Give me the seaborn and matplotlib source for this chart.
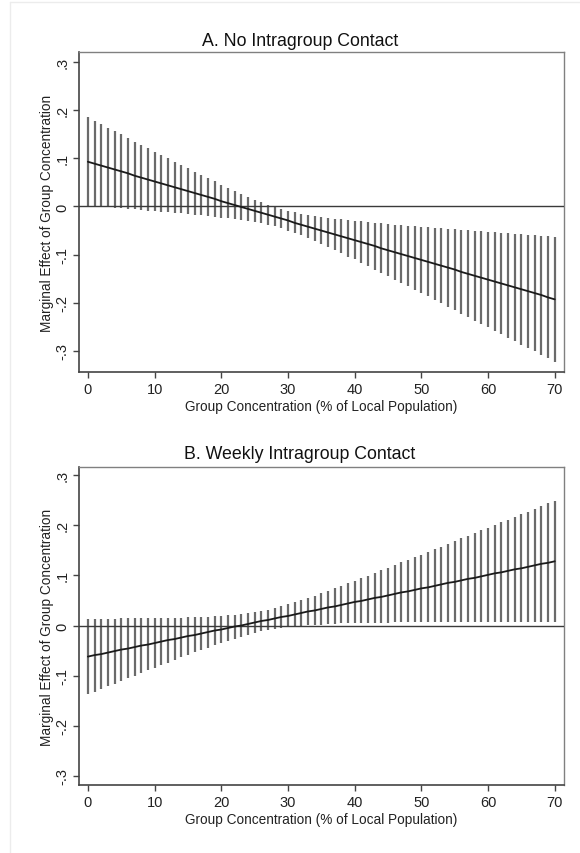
import matplotlib
matplotlib.use('Agg')
import matplotlib.pyplot as plt
import seaborn as sns
import numpy as np
import pandas as pd

# group concentration (% of local population)
conc = list(range(0, 71))

# A. No Intragroup Contact
est_a = [0.093, 0.089, 0.085, 0.081, 0.077, 0.073, 0.069, 0.064, 0.060, 0.056,
         0.052, 0.048, 0.044, 0.040, 0.036, 0.032, 0.028, 0.024, 0.020, 0.016,
         0.011, 0.007, 0.003, -0.001, -0.005, -0.009, -0.013, -0.017, -0.021, -0.025,
         -0.029, -0.034, -0.038, -0.042, -0.046, -0.050, -0.054, -0.058, -0.062, -0.066,
         -0.070, -0.074, -0.078, -0.082, -0.087, -0.091, -0.095, -0.099, -0.103, -0.107,
         -0.111, -0.115, -0.119, -0.123, -0.127, -0.131, -0.136, -0.140, -0.144, -0.148,
         -0.152, -0.156, -0.160, -0.164, -0.168, -0.172, -0.176, -0.180, -0.184, -0.189,
         -0.193]
hi_a = [0.185, 0.178, 0.171, 0.164, 0.157, 0.150, 0.142, 0.135, 0.128, 0.121,
        0.114, 0.107, 0.100, 0.093, 0.086, 0.079, 0.072, 0.066, 0.059, 0.052,
        0.045, 0.039, 0.032, 0.026, 0.020, 0.014, 0.009, 0.004, -0.001, -0.005,
        -0.009, -0.012, -0.015, -0.018, -0.020, -0.022, -0.024, -0.026, -0.027, -0.029,
        -0.030, -0.031, -0.033, -0.034, -0.035, -0.036, -0.038, -0.039, -0.040, -0.041,
        -0.042, -0.043, -0.044, -0.045, -0.046, -0.047, -0.048, -0.049, -0.050, -0.051,
        -0.053, -0.054, -0.055, -0.056, -0.057, -0.058, -0.059, -0.060, -0.061, -0.062,
        -0.063]
lo_a = [0.001, 0.000, -0.001, -0.002, -0.003, -0.004, -0.005, -0.006, -0.008, -0.009,
        -0.010, -0.011, -0.012, -0.013, -0.014, -0.016, -0.017, -0.018, -0.020, -0.021,
        -0.023, -0.024, -0.026, -0.028, -0.030, -0.032, -0.035, -0.038, -0.041, -0.045,
        -0.050, -0.055, -0.060, -0.066, -0.071, -0.078, -0.084, -0.091, -0.097, -0.104,
        -0.110, -0.117, -0.124, -0.131, -0.138, -0.145, -0.152, -0.159, -0.166, -0.173,
        -0.180, -0.187, -0.194, -0.201, -0.208, -0.216, -0.223, -0.230, -0.237, -0.244,
        -0.251, -0.258, -0.265, -0.273, -0.280, -0.287, -0.294, -0.301, -0.308, -0.315,
        -0.323]

# B. Weekly Intragroup Contact
est_b = [-0.062, -0.059, -0.057, -0.054, -0.051, -0.048, -0.046, -0.043, -0.040, -0.038,
         -0.035, -0.032, -0.029, -0.027, -0.024, -0.021, -0.019, -0.016, -0.013, -0.010,
         -0.008, -0.005, -0.002, 0.000, 0.003, 0.006, 0.009, 0.011, 0.014, 0.017,
         0.019, 0.022, 0.025, 0.028, 0.030, 0.033, 0.036, 0.038, 0.041, 0.044,
         0.047, 0.049, 0.052, 0.055, 0.057, 0.060, 0.063, 0.066, 0.068, 0.071,
         0.074, 0.076, 0.079, 0.082, 0.085, 0.087, 0.090, 0.093, 0.095, 0.098,
         0.101, 0.104, 0.106, 0.109, 0.112, 0.114, 0.117, 0.120, 0.123, 0.125,
         0.128]
hi_b = [0.013, 0.013, 0.013, 0.013, 0.013, 0.014, 0.014, 0.014, 0.014, 0.014,
        0.014, 0.015, 0.015, 0.015, 0.015, 0.016, 0.016, 0.017, 0.017, 0.018,
        0.019, 0.020, 0.021, 0.023, 0.024, 0.026, 0.029, 0.031, 0.035, 0.038,
        0.042, 0.046, 0.050, 0.055, 0.059, 0.064, 0.069, 0.074, 0.079, 0.084,
        0.089, 0.094, 0.099, 0.104, 0.110, 0.115, 0.120, 0.126, 0.131, 0.136,
        0.141, 0.147, 0.152, 0.157, 0.163, 0.168, 0.174, 0.179, 0.184, 0.190,
        0.195, 0.200, 0.206, 0.211, 0.217, 0.222, 0.227, 0.233, 0.238, 0.244,
        0.249]
lo_b = [-0.137, -0.132, -0.126, -0.121, -0.116, -0.110, -0.105, -0.100, -0.095, -0.089,
        -0.084, -0.079, -0.074, -0.069, -0.063, -0.058, -0.053, -0.049, -0.044, -0.039,
        -0.034, -0.030, -0.026, -0.022, -0.018, -0.015, -0.011, -0.009, -0.007, -0.005,
        -0.003, -0.002, 0.000, 0.001, 0.001, 0.002, 0.003, 0.003, 0.004, 0.004,
        0.004, 0.005, 0.005, 0.005, 0.005, 0.005, 0.006, 0.006, 0.006, 0.006,
        0.006, 0.006, 0.006, 0.006, 0.006, 0.007, 0.007, 0.007, 0.007, 0.007,
        0.007, 0.007, 0.007, 0.007, 0.007, 0.007, 0.007, 0.007, 0.007, 0.007,
        0.007]

titles = ['A. No Intragroup Contact', 'B. Weekly Intragroup Contact']
xlab = 'Group Concentration (% of Local Population)'
ylab = 'Marginal Effect of Group Concentration'
yticks = [-0.3, -0.2, -0.1, 0, 0.1, 0.2, 0.3]
ytick_labels = ['-.3', '-.2', '-.1', '0', '.1', '.2', '.3']
xticks = [0, 10, 20, 30, 40, 50, 60, 70]

sns.set_theme(style='white')
plt.rcParams['font.family'] = ['Liberation Sans', 'DejaVu Sans']

fig = plt.figure(figsize=(5.8, 8.54), dpi=100)
ax_a = fig.add_axes([0.136, 0.5632, 0.836, 0.3747])
ax_b = fig.add_axes([0.136, 0.0796, 0.836, 0.3724])

panels = [
    (ax_a, est_a, lo_a, hi_a, (-0.344, 0.321), 42),
    (ax_b, est_b, lo_b, hi_b, (-0.318, 0.316), 455),
]

for i, (ax, est, lo, hi, ylim, ty) in enumerate(panels):
    df = pd.DataFrame({'conc': conc, 'est': est, 'lo': lo, 'hi': hi})
    ax.vlines(df['conc'], df['lo'], df['hi'], color='#6a6a6a', lw=1.6, zorder=2)
    ax.axhline(0, color='#3a3a3a', lw=1.0, zorder=3)
    sns.lineplot(data=df, x='conc', y='est', ax=ax, color='#1a1a1a', lw=1.3, zorder=4)
    ax.set_xlim(-1.35, 71.35)
    ax.set_ylim(*ylim)
    ax.set_xticks(xticks)
    ax.set_xticklabels([str(t) for t in xticks], fontsize=10.5, color='#222222')
    ax.set_yticks(yticks)
    ax.set_yticklabels(ytick_labels, fontsize=10.5, color='#222222', rotation=90, va='center')
    ax.tick_params(axis='both', direction='out', length=4, width=1, color='#444444',
                   bottom=True, left=True, pad=3)
    ax.set_xlabel(xlab, fontsize=9.8, color='#222222', labelpad=2)
    ax.set_ylabel(ylab, fontsize=9.8, color='#222222', labelpad=1)
    for side in ['left', 'bottom']:
        ax.spines[side].set_color('#444444')
        ax.spines[side].set_linewidth(1.2)
    for side in ['top', 'right']:
        ax.spines[side].set_color('#808080')
        ax.spines[side].set_linewidth(1.0)
    fig.text(300 / 580, 1 - ty / 854, titles[i], ha='center', va='center',
             fontsize=12.8, color='#111111')

# faint outer frame of the graph region
fig.add_artist(plt.Line2D([10 / 580, 10 / 580], [0, 1 - 3 / 854], transform=fig.transFigure,
                          color='#ececec', lw=1))
fig.add_artist(plt.Line2D([10 / 580, 1], [1 - 3 / 854, 1 - 3 / 854], transform=fig.transFigure,
                          color='#ececec', lw=1))

fig.savefig('out.png', dpi=100)
